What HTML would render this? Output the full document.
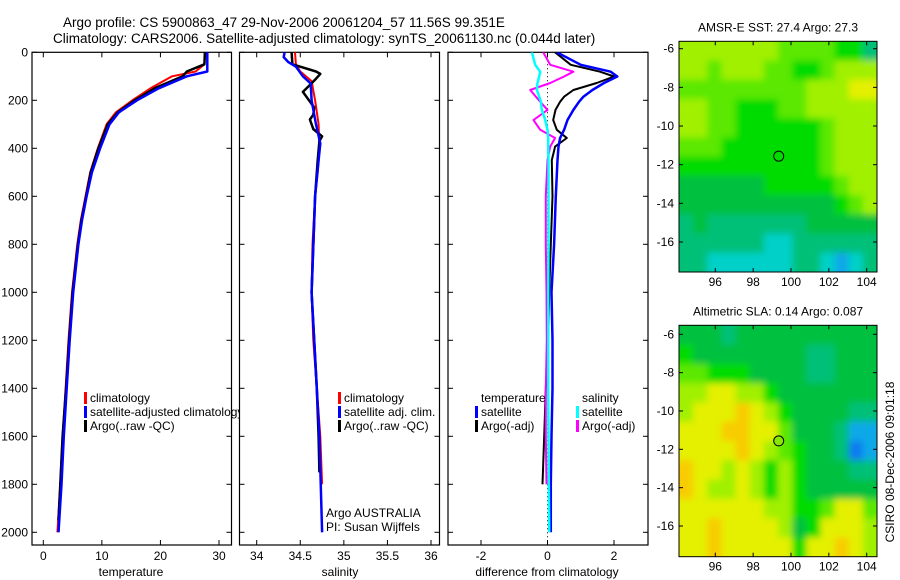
<!DOCTYPE html>
<html><head><meta charset="utf-8"><style>
html,body{margin:0;padding:0;background:#fff;}
svg{display:block;font-family:"Liberation Sans",sans-serif;}
text{font-size:12px;fill:#000;}
</style></head><body>
<svg id="fig" width="900" height="580" viewBox="0 0 900 580">
<defs>
<clipPath id="cp1"><rect x="32" y="52.3" width="199.5" height="492.7"/></clipPath>
<clipPath id="cp2"><rect x="239.5" y="52.3" width="200" height="492.7"/></clipPath>
<clipPath id="cp3"><rect x="448" y="52.3" width="200" height="492.7"/></clipPath>
<clipPath id="cpl1"><rect x="32" y="380" width="208" height="60"/></clipPath>
<clipPath id="cm1"><rect x="679" y="41.3" width="198" height="230.7"/></clipPath>
<clipPath id="cm2"><rect x="679" y="325.3" width="198" height="231.4"/></clipPath>
<filter id="blur" x="-5%" y="-5%" width="110%" height="110%"><feGaussianBlur stdDeviation="3.5"/></filter>
</defs>
<text x="63" y="27" style="font-size:13.5px">Argo profile: CS 5900863_47 29-Nov-2006 20061204_57 11.56S 99.351E</text>
<text x="53" y="43" style="font-size:13.5px">Climatology: CARS2006. Satellite-adjusted climatology: synTS_20061130.nc (0.044d later)</text>
<g id="g1"></g>
<g id="g2"></g>
<g id="g3"></g>
<g id="m1"></g>
<g id="m2"></g>
<text x="0" y="0" transform="translate(894,462) rotate(-90)" text-anchor="middle">CSIRO 08-Dec-2006 09:01:18</text>
</svg>
<script>
// ---- data ----
const tClimDepth=[0,50,80,100,150,200,250,300,400,500,600,700,800,1000,1200,1400,1600,1800,2000];
const tClim=[27.6,27.5,26,22,18.3,15.2,12.4,10.8,9.3,8.0,7.2,6.4,5.8,4.9,4.3,3.8,3.3,2.9,2.4];
const tSatDepth=[0,80,100,150,200,250,300,400,500,600,700,800,1000,1200,1400,1600,1800,2000];
const tSat=[28,28,24.5,19.7,16.0,12.9,11.3,9.7,8.3,7.4,6.6,6.0,5.1,4.5,4.0,3.5,3.1,2.6];
const tArgoDepth=[0,50,80,100,150,200,250,300,400,500,600,700,800,1000,1200,1400,1600,1800,1950];
const tArgo=[27.6,27.5,24.5,23.8,19.0,15.6,12.7,11.0,9.4,8.1,7.3,6.5,5.9,5.0,4.4,3.9,3.3,2.9,2.6];
const sClimDepth=[0,50,80,120,200,300,400,500,600,800,1000,1200,1400,1600,1800];
const sClim=[34.44,34.45,34.5,34.63,34.67,34.71,34.72,34.7,34.67,34.64,34.63,34.65,34.69,34.73,34.75];
const sSatDepth=[0,20,40,60,100,130,200,300,380,450,600,1000,1400,1600,2000];
const sSat=[34.32,34.31,34.36,34.45,34.53,34.62,34.63,34.68,34.73,34.71,34.67,34.63,34.69,34.72,34.75];
const sArgoDepth=[0,50,60,80,90,110,140,165,200,230,260,280,320,350,370,450,600,1000,1400,1600,1750];
const sArgo=[34.40,34.41,34.5,34.68,34.73,34.68,34.6,34.53,34.6,34.66,34.65,34.61,34.65,34.75,34.72,34.7,34.67,34.63,34.69,34.71,34.72];
const dDepth=[0,52,81,101,128,157,185,206,240,282,323,357,393,449,600,800,1000,1200,1400,1600,1800,2000];
const dTempSat=[0.28,1.0,1.9,2.1,1.7,1.35,1.08,0.95,0.78,0.6,0.5,0.38,0.33,0.3,0.25,0.2,0.12,0.15,0.15,0.12,0.1,0.1];
const dTempArgo=[0.23,0.7,1.58,2.0,1.48,0.78,0.5,0.38,0.24,0.17,0.28,0.58,0.23,0.13,0.15,0.1,0.05,0.02,-0.05,-0.1,-0.15,null];
const dSalArgo=[-0.13,0.08,0.78,0.5,0.08,-0.52,-0.35,-0.22,0,-0.42,-0.22,0.23,0.08,0,-0.05,-0.05,-0.03,-0.02,-0.05,-0.05,-0.03,null];
const dSalSat=[-0.47,-0.37,-0.22,-0.25,-0.3,-0.32,-0.25,-0.2,-0.17,-0.07,0.0,0.02,0.02,0.03,0.03,0.03,0.02,0.02,0.02,0.03,0.04,0.05];
const tempTicks=[0,10,20,30];
const salTicks=[34,34.5,35,35.5,36];
const diffTicks=[-2,0,2];
const depthTicks=[0,200,400,600,800,1000,1200,1400,1600,1800,2000];
const lonTicks=[96,98,100,102,104];
const latTicks=[-6,-8,-10,-12,-14,-16];
const sstGrid=[
[7,7,7,7,7,7,7,6,6,6,6,5,5,3],
[7,7,6,7,7,7,6,6,5,5,6,7,7,7],
[6,6,6,6,6,6,6,6,6,7,7,7,8,8],
[7,7,6,6,5,5,5,6,6,7,7,7,7,7],
[7,7,6,6,5,5,5,5,5,5,6,7,7,7],
[6,6,6,5,5,5,5,5,5,5,6,7,7,7],
[5,5,5,5,5,5,5,5,5,5,6,7,7,7],
[4,4,4,4,4,4,5,5,5,5,5,6,7,7],
[4,4,4,4,4,4,4,4,4,4,4,5,6,7],
[3,4,3,3,3,3,3,3,3,4,4,4,4,4],
[3,3,3,3,3,3,2,2,3,3,3,3,3,3],
[3,3,2,2,2,2,2,2,3,3,2,1,2,3]];
const slaGrid=[
[4,4,4,3,4,4,4,4,4,4,4,4,4,4],
[5,4,4,4,4,4,4,4,4,3,3,4,4,4],
[6,6,5,5,5,4,4,4,4,3,3,4,4,4],
[7,7,8,8,7,7,5,4,4,4,4,4,4,4],
[7,8,8,8,9,8,7,5,4,4,4,4,3,3],
[8,8,8,9,9,8,8,6,4,4,4,3,1,1],
[8,8,8,8,9,8,7,6,5,4,4,3,0,1],
[9,8,8,7,8,7,5,7,5,4,4,4,3,3],
[9,8,7,7,8,7,5,7,5,4,4,4,4,4],
[8,8,8,8,8,8,7,7,5,5,6,8,8,6],
[8,8,9,8,8,8,8,7,4,5,8,8,8,7],
[8,8,9,8,8,8,8,8,5,8,8,9,8,7]];
const palette=['#0a7cf0','#0aa8e8','#00d0c8','#00c078','#00c040','#00dc00','#5ce800','#a0f000','#e4f000','#f8cc00','#f0a800'];
const argoLon=99.35, argoLat=-11.56;

// ---- helpers ----
const NS='http://www.w3.org/2000/svg';
function mk(tag,parent){const e=document.createElementNS(NS,tag);parent.appendChild(e);return e;}
const yDepth=d=>52.3+d*0.24;
function scale(v0,p0,v1,p1){return v=>p0+(v-v0)*(p1-p0)/(v1-v0);}
function frame(g,x0,x1,y0,y1,xs,ticks,ys,yticks,labelY){
  const r=mk('rect',g);r.setAttribute('x',x0);r.setAttribute('y',y0);r.setAttribute('width',x1-x0);r.setAttribute('height',y1-y0);
  r.setAttribute('fill','none');r.setAttribute('stroke','#000');r.setAttribute('stroke-width','1.2');
  
  
  ticks.forEach(t=>{const x=xs(t);
    [[y1,y1-5],[y0,y0+5]].forEach(([a,b])=>{const l=mk('line',g);l.setAttribute('x1',x);l.setAttribute('x2',x);l.setAttribute('y1',a);l.setAttribute('y2',b);l.setAttribute('stroke','#000');
      
      });
    const tx=mk('text',g);tx.setAttribute('x',x);tx.setAttribute('y',labelY);tx.setAttribute('text-anchor','middle');tx.textContent=t;
    
    });
  yticks.forEach(t=>{const y=ys(t);
    [[x0,x0+5],[x1,x1-5]].forEach(([a,b])=>{const l=mk('line',g);l.setAttribute('x1',a);l.setAttribute('x2',b);l.setAttribute('y1',y);l.setAttribute('y2',y);l.setAttribute('stroke','#000');
      
      });});
}
function line(g,xs,vals,depths,color,w,clip,name){
  const pts=[];vals.forEach((v,i)=>{if(v!==null)pts.push(xs(v).toFixed(1)+','+yDepth(depths[i]).toFixed(1));});
  const p=mk('polyline',g);p.setAttribute('points',pts.join(' '));p.setAttribute('fill','none');p.setAttribute('stroke',color);
  p.setAttribute('stroke-width',w);p.setAttribute('stroke-linejoin','round');p.setAttribute('clip-path','url(#'+clip+')');
  
  
}
function legend(g,x,y,color,label,name){
  if(color){const r=mk('rect',g);r.setAttribute('x',x-6);r.setAttribute('y',y-10);r.setAttribute('width',3);r.setAttribute('height',12);r.setAttribute('fill',color);
    
    }
  const t=mk('text',g);t.setAttribute('x',x);t.setAttribute('y',y);t.textContent=label;
  
  
  return t;
}
function text(g,x,y,s,anchor,name){const t=mk('text',g);t.setAttribute('x',x);t.setAttribute('y',y);if(anchor)t.setAttribute('text-anchor',anchor);t.textContent=s;
  
  return t;}

// ---- panel 1: temperature ----
const g1=document.getElementById('g1');
const xT=scale(0,43.3,30,219);
frame(g1,32,231.5,52.3,545,xT,tempTicks,yDepth,depthTicks,560);
depthTicks.forEach(d=>text(g1,28,yDepth(d)+4,d,'end','depth-tick-label'));
text(g1,131,576,'temperature','middle','x-axis-title');
line(g1,xT,tClim,tClimDepth,'#ff0000',2,'cp1','temp-climatology-line');
line(g1,xT,tArgo,tArgoDepth,'#000',2.5,'cp1','temp-argo-line');
line(g1,xT,tSat,tSatDepth,'#0000ff',2.5,'cp1','temp-satellite-line');
const lg1=mk('g',g1);lg1.setAttribute('clip-path','url(#cpl1)');


legend(lg1,90,402,'#ff0000','climatology','legend-climatology');
legend(lg1,90,416,'#0000ff','satellite-adjusted climatology','legend-satellite-adjusted');
legend(lg1,90,430,'#000','Argo(..raw -QC)','legend-argo');

// ---- panel 2: salinity ----
const g2=document.getElementById('g2');
const xS=scale(34,256.7,36,431);
frame(g2,239.5,439.5,52.3,545,xS,salTicks,yDepth,depthTicks,560);
text(g2,340,576,'salinity','middle','x-axis-title');
line(g2,xS,sClim,sClimDepth,'#ff0000',2,'cp2','sal-climatology-line');
line(g2,xS,sArgo,sArgoDepth,'#000',2.5,'cp2','sal-argo-line');
line(g2,xS,sSat,sSatDepth,'#0000ff',2.5,'cp2','sal-satellite-line');
legend(g2,344,402,'#ff0000','climatology','legend-climatology');
legend(g2,344,416,'#0000ff','satellite adj. clim.','legend-satellite');
legend(g2,344,430,'#000','Argo(..raw -QC)','legend-argo');
text(g2,326,517,'Argo AUSTRALIA',null,'agency-label');
text(g2,326,531,'PI: Susan Wijffels',null,'pi-label');

// ---- panel 3: differences ----
const g3=document.getElementById('g3');
const xD=scale(-2,481,2,614);
frame(g3,448,648,52.3,545,xD,diffTicks,yDepth,depthTicks,560);
text(g3,547,576,'difference from climatology','middle','x-axis-title');
const zl=mk('line',g3);zl.setAttribute('x1',xD(0));zl.setAttribute('x2',xD(0));zl.setAttribute('y1',52.3);zl.setAttribute('y2',545);
zl.setAttribute('stroke','#000');zl.setAttribute('stroke-dasharray','1,3');


line(g3,xD,dTempArgo,dDepth,'#000',2,'cp3','diff-temp-argo-line');
line(g3,xD,dTempSat,dDepth,'#0000ff',2.5,'cp3','diff-temp-satellite-line');
line(g3,xD,dSalArgo,dDepth,'#ff00ff',2,'cp3','diff-sal-argo-line');
line(g3,xD,dSalSat,dDepth,'#00ffff',2.5,'cp3','diff-sal-satellite-line');
legend(g3,481,402,null,'temperature','legend-temperature-header');
legend(g3,481,416,'#0000ff','satellite','legend-temp-satellite');
legend(g3,481,430,'#000','Argo(-adj)','legend-temp-argo');
legend(g3,582,402,null,'salinity','legend-salinity-header');
legend(g3,582,416,'#00ffff','satellite','legend-sal-satellite');
legend(g3,582,430,'#ff00ff','Argo(-adj)','legend-sal-argo');

// ---- maps ----
function map(id,grid,y0,y1,latTop,latBot,title,fillCircle){
  const g=document.getElementById(id);const x0=679,x1=877;
  const xL=scale(96,715.3,104,866.7);const yL=scale(-6,latTop,-16,latBot);
  const hm=mk('g',g);hm.setAttribute('clip-path','url(#'+(id==='m1'?'cm1':'cm2')+')');
  
  
  const inner=mk('g',hm);inner.setAttribute('filter','url(#blur)');
  const rows=grid.length,cols=grid[0].length;const cw=(x1-x0)/cols,ch=(y1-y0)/rows;
  grid.forEach((row,i)=>row.forEach((v,j)=>{const r=mk('rect',inner);
    r.setAttribute('x',x0+j*cw-(j===0?8:0));r.setAttribute('y',y0+i*ch-(i===0?8:0));
    r.setAttribute('width',cw+0.6+(j===0||j===cols-1?8:0));r.setAttribute('height',ch+0.6+(i===0||i===rows-1?8:0));
    r.setAttribute('fill',palette[v]);
    
    }));
  const c=mk('circle',g);c.setAttribute('cx',xL(argoLon));c.setAttribute('cy',yL(argoLat));c.setAttribute('r',5);
  c.setAttribute('fill',fillCircle||'none');c.setAttribute('stroke','#000');
  
  
  const b=mk('rect',g);b.setAttribute('x',x0);b.setAttribute('y',y0);b.setAttribute('width',x1-x0);b.setAttribute('height',y1-y0);
  b.setAttribute('fill','none');b.setAttribute('stroke','#000');
  
  
  lonTicks.forEach(t=>{const x=xL(t);[[y1,y1-4],[y0,y0+4]].forEach(([a,bb])=>{const l=mk('line',g);l.setAttribute('x1',x);l.setAttribute('x2',x);l.setAttribute('y1',a);l.setAttribute('y2',bb);l.setAttribute('stroke','#000');
      
      });
    text(g,x,y1+14,t,'middle','lon-tick-label');});
  latTicks.forEach(t=>{const y=yL(t);[[x0,x0+4],[x1,x1-4]].forEach(([a,bb])=>{const l=mk('line',g);l.setAttribute('x1',a);l.setAttribute('x2',bb);l.setAttribute('y1',y);l.setAttribute('y2',y);l.setAttribute('stroke','#000');
      
      });
    text(g,674,y+4,t,'end','lat-tick-label');});
  text(g,778,y0-10,title,'middle','map-title');
}
map('m1',sstGrid,41.3,272,48.7,242,'AMSR-E SST: 27.4 Argo: 27.3',null);
map('m2',slaGrid,325.3,556.7,334.3,526,'Altimetric SLA: 0.14 Argo: 0.087','#88e800');
</script>
</body></html>
